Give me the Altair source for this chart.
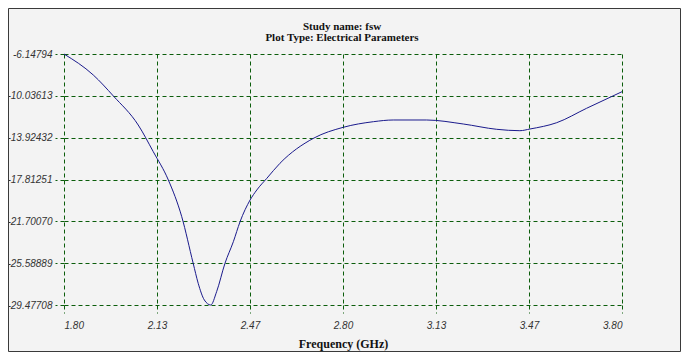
import altair as alt
import pandas as pd

# Data
freq = [1.800, 1.905, 1.977, 2.066, 2.120, 2.174, 2.222, 2.263, 2.281, 2.303,
        2.326, 2.347, 2.377, 2.407, 2.431, 2.467, 2.491, 2.527, 2.574, 2.694,
        2.801, 2.909, 2.980, 3.100, 3.231, 3.351, 3.434, 3.470, 3.566, 3.673, 3.800]
value = [-6.14794, -8.100, -10.052, -12.747, -15.229, -17.859, -21.270, -25.602, -27.461, -29.012,
         -29.47708, -28.241, -25.601, -23.594, -21.735, -19.718, -18.788, -17.701, -16.307, -13.983,
         -12.961, -12.440, -12.282, -12.282, -12.654, -13.147, -13.277, -13.119, -12.533, -11.195, -9.652]

x_ticks = [1.8, 2.1333333, 2.4666667, 2.8, 3.1333333, 3.4666667, 3.8]
y_ticks = [-6.14794, -10.03613, -13.92432, -17.81251, -21.70070, -25.58889, -29.47708]

title_lines = ["Study name: fsw", "Plot Type: Electrical Parameters"]
x_title = "Frequency (GHz)"

df = pd.DataFrame({"f": freq, "v": value})
tdf = pd.DataFrame({"t": title_lines, "row": [0, 1]})

W, H = 558, 251
PAD = {"left": 56, "top": 46, "right": 59, "bottom": 47}
GRID = "#0b5d0b"

xscale = alt.Scale(domain=[1.8, 3.8], nice=False, zero=False)
yscale = alt.Scale(domain=[-29.47708, -6.14794], nice=False, zero=False)

xaxis = alt.Axis(
    values=x_ticks, labelExpr="format(datum.value, '.2f')", title=x_title,
    grid=True, gridColor=GRID, gridDash=[4, 3], gridWidth=1, gridOpacity=1,
    domain=False, ticks=True, tickColor=GRID, tickDash=[4, 3], tickSize=8, tickWidth=1,
    labelFont="Liberation Sans", labelFontStyle="italic", labelFontSize=10,
    labelColor="#333333", labelPadding=7,
    titleFont="Liberation Serif", titleFontWeight="bold", titleFontSize=12,
    titleColor="#111111", titlePadding=8,
)
yaxis = alt.Axis(
    values=y_ticks, labelExpr="replace(format(datum.value, '.5f'), '\u2212', '-')", title=None,
    grid=True, gridColor=GRID, gridDash=[4, 3], gridWidth=1, gridOpacity=1,
    domain=False, ticks=True, tickColor=GRID, tickDash=[4, 3], tickSize=9, tickWidth=1,
    labelFont="Liberation Sans", labelFontStyle="italic", labelFontSize=10,
    labelColor="#333333", labelPadding=3,
)

line = alt.Chart(df).mark_line(color="#1a1a8c", strokeWidth=1, interpolate="monotone").encode(
    x=alt.X("f:Q", scale=xscale, axis=xaxis),
    y=alt.Y("v:Q", scale=yscale, axis=yaxis),
)

border = alt.Chart(pd.DataFrame({"a": [0]})).mark_rect(
    filled=False, stroke="#3a3a3a", strokeWidth=1
).encode(
    x=alt.value(-PAD["left"] + 0.5),
    x2=alt.value(W + PAD["right"] - 0.5),
    y=alt.value(-PAD["top"] + 0.5),
    y2=alt.value(H + PAD["bottom"] - 0.5),
)

title1 = alt.Chart(tdf).transform_filter("datum.row == 0").mark_text(
    font="Liberation Serif", fontSize=11, fontWeight="bold", color="#111111",
    align="center", baseline="middle",
).encode(text="t:N", x=alt.value(W / 2 - 1), y=alt.value(-27))
title2 = alt.Chart(tdf).transform_filter("datum.row == 1").mark_text(
    font="Liberation Serif", fontSize=11, fontWeight="bold", color="#111111",
    align="center", baseline="middle",
).encode(text="t:N", x=alt.value(W / 2 - 1), y=alt.value(-16))

chart = alt.layer(border, line, title1, title2).properties(
    width=W, height=H,
    padding=PAD,
    autosize=alt.AutoSizeParams(type="none"),
    background="#f3f3f3",
).configure_view(stroke=None)

chart.save("out.html", embed_options={"renderer": "svg", "actions": False})
